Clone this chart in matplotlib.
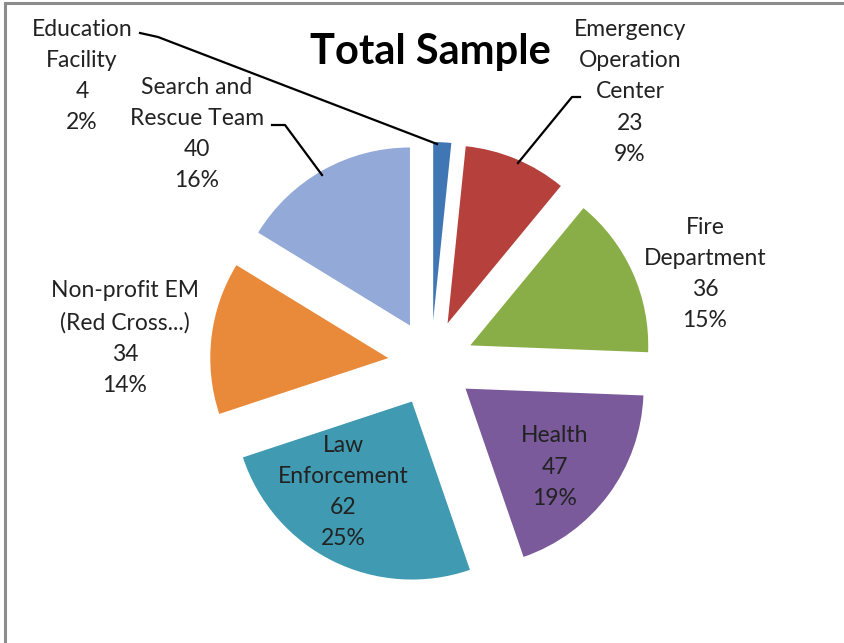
import matplotlib.pyplot as plt

# responses by organisation type
names = ['Education\nFacility', 'Emergency\nOperation\nCenter', 'Fire\nDepartment',
         'Health', 'Law\nEnforcement', 'Non-profit EM\n(Red Cross...)',
         'Search and\nRescue Team']
counts = [4, 23, 36, 47, 62, 34, 40]
colors = ['#3f76b3', '#b5403c', '#8aae47', '#7a5a9a', '#3f9ab2', '#e88a3a', '#93a9d7']

# label anchors and leader lines, in pixels from the top-left corner
label_pos = [(82, 76), (630, 92), (705, 274), (555, 467), (343, 492), (125, 338), (197, 134)]
leaders = [[(140, 33), (158, 37), (437, 144)],
           [(580, 97), (572, 97), (518, 163)],
           None, None, None, None,
           [(272, 125), (285, 125), (322, 175)]]

W, H = 844, 643
FONT = 'Lato'


def px(x, y):
    return x, H - y


def main():
    fig = plt.figure(figsize=(W / 100, H / 100), dpi=100)
    ax = fig.add_axes([0, 0, 1, 1])

    ax.pie(counts, colors=colors, startangle=90, counterclock=False,
           center=px(431, 363), radius=178, explode=[43] * len(counts),
           wedgeprops=dict(linewidth=0))
    ax.set_xlim(0, W)
    ax.set_ylim(0, H)
    ax.set_aspect('auto')
    ax.axis('off')

    total = sum(counts)
    for name, n, (x, y), line in zip(names, counts, label_pos, leaders):
        pct = round(100 * n / total)
        ax.text(*px(x, y), f'{name}\n{n}\n{pct}%', ha='center', va='center',
                family=FONT, fontsize=16.5, color='#222222', linespacing=1.6)
        if line:
            xs, ys = zip(*[px(a, b) for a, b in line])
            ax.plot(xs, ys, color='black', lw=1.6)

    ax.text(*px(430, 52), 'Total Sample', ha='center', va='center',
            family=FONT, fontsize=30, fontweight='bold', color='black')

    # frame on the left and top edges
    ax.plot([5, 5, W], [0, H - 3, H - 3], color='#8c8c8c', lw=2.2,
            solid_joinstyle='miter')

    fig.savefig('out.png', dpi=100)


if __name__ == '__main__':
    main()
